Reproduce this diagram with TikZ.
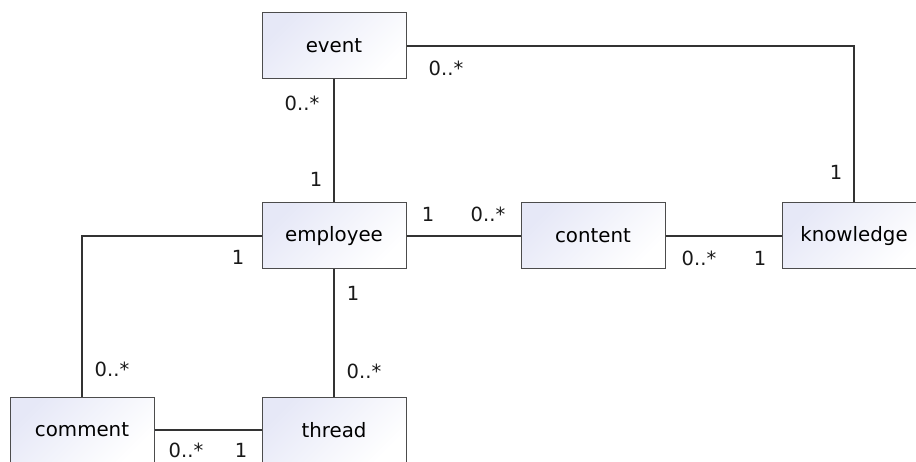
\documentclass[tikz,border=0pt]{standalone}
\usepackage{fontspec}
\setmainfont{DejaVu Sans}
\begin{document}
\begin{tikzpicture}[x=1pt,y=-1pt,
  cls/.style={draw=black!70, line width=1pt, minimum width=144pt, minimum height=66pt,
    inner sep=0pt, top color=lav, bottom color=white, shading angle=45,
    font=\fontsize{19.8}{23}\selectfont},
  assoc/.style={draw=black!80, line width=1.6pt},
  mult/.style={font=\fontsize{19.5}{23}\selectfont, inner sep=0pt, text=black!90}]
\definecolor{lav}{RGB}{230,232,247}
\useasboundingbox (0,0) rectangle (916,462);
\clip (0,0) rectangle (916,462);
\node[cls] (event) at (334,46) {event};
\node[cls] (employee) at (334,236) {employee};
\node[cls] (content) at (593,236) {content};
\node[cls] (knowledge) at (854,236) {knowledge};
\node[cls] (comment) at (82,430) {comment};
\node[cls] (thread) at (334,430) {thread};
\coordinate (c1) at (854,46);
\coordinate (c2) at (82,236);
\draw[assoc] (event.east) -- (c1) -- (knowledge.north);
\draw[assoc] (event.south) -- (employee.north);
\draw[assoc] (employee.east) -- (content.west);
\draw[assoc] (content.east) -- (knowledge.west);
\draw[assoc] (employee.west) -- (c2) -- (comment.north);
\draw[assoc] (employee.south) -- (thread.north);
\draw[assoc] (comment.east) -- (thread.west);
\node[mult] (m1) at (446,68) {0..*};
\node[mult] (m2) at (836,172) {1};
\node[mult] (m3) at (302,103) {0..*};
\node[mult] (m4) at (316,179) {1};
\node[mult] (m5) at (428,214) {1};
\node[mult] (m6) at (488,214) {0..*};
\node[mult] (m7) at (699,258) {0..*};
\node[mult] (m8) at (760,258) {1};
\node[mult] (m9) at (238,257) {1};
\node[mult] (m10) at (353,293) {1};
\node[mult] (m11) at (112,369) {0..*};
\node[mult] (m12) at (364,371) {0..*};
\node[mult] (m13) at (186,450) {0..*};
\node[mult] (m14) at (241,450) {1};
\end{tikzpicture}
\end{document}
